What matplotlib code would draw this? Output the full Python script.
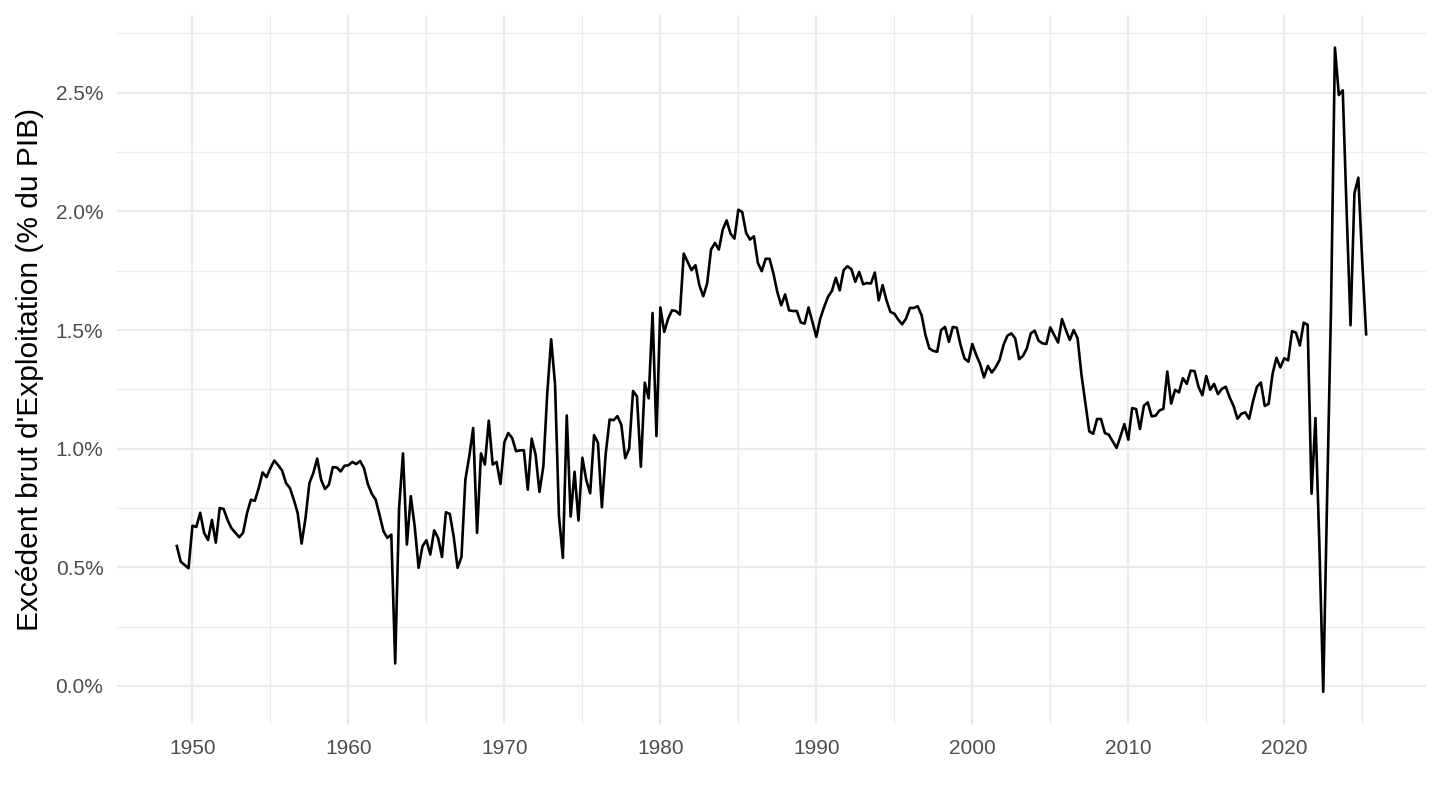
import numpy as np
import matplotlib.pyplot as plt
from matplotlib.ticker import FixedLocator, FuncFormatter

# quarterly values, % of GDP, first quarter 1949 to second quarter 2025
first_year = 1949
ebe = [
    0.59, 0.524, 0.51, 0.496,      # 1949
    0.675, 0.67, 0.73, 0.645,      # 1950
    0.615, 0.70, 0.604, 0.75,      # 1951
    0.746, 0.70, 0.665, 0.646,     # 1952
    0.627, 0.646, 0.728, 0.785,    # 1953
    0.78, 0.834, 0.90, 0.88,       # 1954
    0.918, 0.95, 0.93, 0.908,      # 1955
    0.855, 0.834, 0.785, 0.728,    # 1956
    0.60, 0.707, 0.855, 0.897,     # 1957
    0.958, 0.869, 0.83, 0.848,     # 1958
    0.922, 0.921, 0.904, 0.928,    # 1959
    0.93, 0.944, 0.935, 0.948,     # 1960
    0.918, 0.85, 0.81, 0.785,      # 1961
    0.72, 0.652, 0.624, 0.638,     # 1962
    0.095, 0.75, 0.98, 0.596,      # 1963
    0.80, 0.673, 0.498, 0.589,     # 1964
    0.614, 0.554, 0.656, 0.624,    # 1965
    0.544, 0.732, 0.725, 0.63,     # 1966
    0.498, 0.544, 0.87, 0.968,     # 1967
    1.087, 0.645, 0.98, 0.933,     # 1968
    1.118, 0.933, 0.944, 0.851,    # 1969
    1.027, 1.066, 1.045, 0.989,    # 1970
    0.993, 0.993, 0.827, 1.042,    # 1971
    0.975, 0.818, 0.926, 1.234,    # 1972
    1.461, 1.27, 0.715, 0.54,      # 1973
    1.14, 0.714, 0.903, 0.697,     # 1974
    0.962, 0.868, 0.812, 1.057,    # 1975
    1.025, 0.753, 0.98, 1.123,     # 1976
    1.12, 1.137, 1.10, 0.96,       # 1977
    1.0, 1.243, 1.22, 0.924,       # 1978
    1.278, 1.212, 1.572, 1.053,    # 1979
    1.595, 1.492, 1.548, 1.583,    # 1980
    1.58, 1.565, 1.822, 1.787,     # 1981
    1.752, 1.773, 1.689, 1.642,    # 1982
    1.696, 1.839, 1.867, 1.839,    # 1983
    1.923, 1.962, 1.906, 1.885,    # 1984
    2.007, 1.997, 1.909, 1.881,    # 1985
    1.895, 1.783, 1.748, 1.80,     # 1986
    1.80, 1.738, 1.66, 1.604,      # 1987
    1.65, 1.583, 1.58, 1.58,       # 1988
    1.532, 1.527, 1.595, 1.534,    # 1989
    1.471, 1.548, 1.597, 1.64,     # 1990
    1.665, 1.72, 1.667, 1.752,     # 1991
    1.769, 1.756, 1.703, 1.745,    # 1992
    1.693, 1.698, 1.696, 1.742,    # 1993
    1.625, 1.689, 1.625, 1.576,    # 1994
    1.569, 1.544, 1.524, 1.548,    # 1995
    1.593, 1.593, 1.60, 1.562,     # 1996
    1.478, 1.422, 1.412, 1.408,    # 1997
    1.50, 1.513, 1.45, 1.513,      # 1998
    1.51, 1.436, 1.38, 1.366,      # 1999
    1.441, 1.395, 1.357, 1.30,     # 2000
    1.349, 1.321, 1.343, 1.374,    # 2001
    1.437, 1.476, 1.486, 1.465,    # 2002
    1.377, 1.391, 1.423, 1.486,    # 2003
    1.497, 1.455, 1.444, 1.441,    # 2004
    1.511, 1.479, 1.447, 1.546,    # 2005
    1.50, 1.458, 1.50, 1.465,      # 2006
    1.311, 1.192, 1.073, 1.063,    # 2007
    1.125, 1.125, 1.066, 1.059,    # 2008
    1.031, 1.003, 1.052, 1.104,    # 2009
    1.038, 1.171, 1.167, 1.083,    # 2010
    1.181, 1.195, 1.136, 1.139,    # 2011
    1.161, 1.168, 1.325, 1.19,     # 2012
    1.248, 1.237, 1.297, 1.273,    # 2013
    1.329, 1.327, 1.261, 1.225,    # 2014
    1.306, 1.248, 1.273, 1.23,     # 2015
    1.252, 1.261, 1.216, 1.18,     # 2016
    1.126, 1.147, 1.153, 1.126,    # 2017
    1.201, 1.261, 1.279, 1.18,     # 2018
    1.189, 1.315, 1.383, 1.342,    # 2019
    1.381, 1.372, 1.495, 1.489,    # 2020
    1.435, 1.531, 1.522, 0.81,     # 2021
    1.129, 0.6, -0.025, 0.8,       # 2022
    1.6, 2.69, 2.49, 2.51,         # 2023
    2.0, 1.52, 2.076, 2.142,       # 2024
    1.79, 1.482,                   # 2025
]
year_ticks = [1950, 1960, 1970, 1980, 1990, 2000, 2010, 2020]
pct_ticks = [0.0, 0.5, 1.0, 1.5, 2.0, 2.5]
ylabel = "Excédent brut d'Exploitation (% du PIB)"

dates = first_year + np.arange(len(ebe)) / 4
values = np.array(ebe)

plt.rcParams['font.family'] = ['Liberation Sans', 'DejaVu Sans']

fig = plt.figure(figsize=(14.4, 8.1), dpi=100)
ax = fig.add_axes([0.0815, 0.106, 0.9085, 0.875])

ax.plot(dates, values, color='black', linewidth=1.9, zorder=3)

# ggplot-like expansion of 5 %
span = dates[-1] - dates[0]
ax.set_xlim(dates[0] - 0.05 * span, dates[-1] + 0.05 * span)
vspan = values.max() - values.min()
ax.set_ylim(values.min() - 0.05 * vspan, values.max() + 0.05 * vspan)

# grid lines, theme_minimal style
ax.xaxis.set_major_locator(FixedLocator(year_ticks))
ax.xaxis.set_minor_locator(FixedLocator(np.arange(1945, 2031, 10)))
ax.yaxis.set_major_locator(FixedLocator(pct_ticks))
ax.yaxis.set_minor_locator(FixedLocator(np.arange(-0.25, 3.0, 0.5)))
ax.grid(which='major', color='#ebebeb', linewidth=1.6)
ax.grid(which='minor', color='#ebebeb', linewidth=0.8)
ax.set_axisbelow(True)

ax.yaxis.set_major_formatter(FuncFormatter(lambda v, p: f"{v:.1f}%"))
ax.tick_params(which='both', length=0)
ax.tick_params(axis='x', labelsize=15, labelcolor='#4d4d4d', pad=11)
ax.tick_params(axis='y', labelsize=15, labelcolor='#4d4d4d', pad=10)

for side in ax.spines.values():
    side.set_visible(False)

ax.set_ylabel(ylabel, fontsize=21.5, color='black', labelpad=8)

fig.savefig("out.png", dpi=100)
